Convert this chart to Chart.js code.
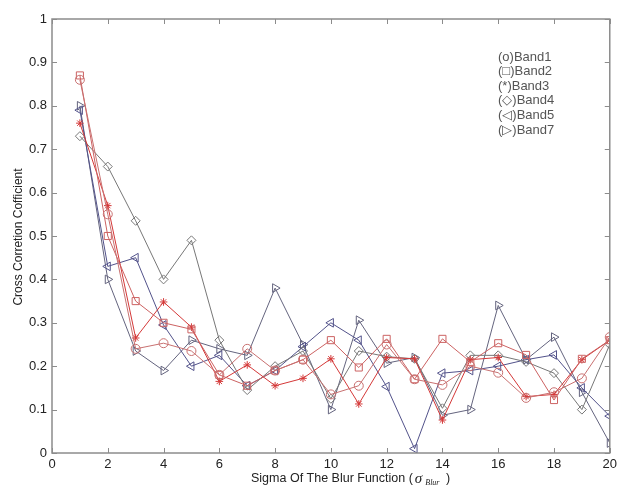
<!DOCTYPE html>
<html>
<head>
<meta charset="utf-8">
<script src="https://cdn.jsdelivr.net/npm/chart.js@4"></script>
<style>
  html, body { margin: 0; padding: 0; background: #fff; }
  #wrap { width: 621px; height: 489px; }
</style>
</head>
<body>
<div id="wrap"><canvas id="c" width="621" height="489"></canvas></div>
<script>
// sigma values on the x axis
const SIGMA = [1, 2, 3, 4, 5, 6, 7, 8, 9, 10, 11, 12, 13, 14, 15, 16, 17, 18, 19, 20];

// cross correlation per band
const BAND1 = [0.86, 0.55, 0.24, 0.253, 0.235, 0.18, 0.24, 0.19, 0.215, 0.135, 0.155, 0.25, 0.17, 0.157, 0.20, 0.185, 0.127, 0.14, 0.172, 0.267];
const BAND2 = [0.87, 0.50, 0.35, 0.30, 0.285, 0.18, 0.155, 0.19, 0.215, 0.26, 0.197, 0.263, 0.17, 0.263, 0.21, 0.253, 0.226, 0.122, 0.217, 0.26];
const BAND3 = [0.76, 0.57, 0.265, 0.348, 0.29, 0.165, 0.203, 0.155, 0.172, 0.217, 0.113, 0.22, 0.217, 0.076, 0.215, 0.22, 0.13, 0.135, 0.215, 0.26];
const BAND4 = [0.73, 0.66, 0.535, 0.40, 0.49, 0.26, 0.145, 0.20, 0.235, 0.125, 0.235, 0.222, 0.217, 0.103, 0.225, 0.225, 0.21, 0.184, 0.10, 0.25];
const BAND5 = [0.79, 0.43, 0.45, 0.295, 0.20, 0.225, 0.155, 0.19, 0.245, 0.30, 0.26, 0.153, 0.01, 0.184, 0.19, 0.20, 0.215, 0.226, 0.15, 0.085];
const BAND7 = [0.80, 0.40, 0.235, 0.19, 0.26, 0.24, 0.225, 0.38, 0.25, 0.10, 0.306, 0.207, 0.22, 0.087, 0.10, 0.34, 0.215, 0.267, 0.14, 0.023];

const LEGEND_LINES = ['(o)Band1', '(\u25A1)Band2', '(*)Band3', '(\u25C7)Band4', '(\u25C1)Band5', '(\u25B7)Band7'];
const X_TICKS = [0, 2, 4, 6, 8, 10, 12, 14, 16, 18, 20];
const Y_TICKS = [0, 0.1, 0.2, 0.3, 0.4, 0.5, 0.6, 0.7, 0.8, 0.9, 1];

const FONT = '"Liberation Sans", Arial, sans-serif';
const AXIS_GRAY = '#8c8c8c';

function pts(vals) {
  return vals.map((v, i) => ({ x: SIGMA[i], y: v }));
}

function band(label, vals, color, style, rot, r) {
  return {
    label,
    data: pts(vals),
    borderColor: color,
    backgroundColor: 'rgba(0,0,0,0)',
    pointBorderColor: color,
    pointBackgroundColor: 'rgba(0,0,0,0)',
    borderWidth: 1,
    pointBorderWidth: 1,
    pointStyle: style,
    pointRotation: rot || 0,
    pointRadius: r || 4.5,
    tension: 0
  };
}

// frame, inward ticks, legend text and axis titles
const decor = {
  id: 'decor',
  afterDraw(chart) {
    const ctx = chart.ctx;
    const a = chart.chartArea;
    const xs = chart.scales.x, ys = chart.scales.y;
    ctx.save();
    ctx.strokeStyle = AXIS_GRAY;
    ctx.lineWidth = 1.5;
    ctx.strokeRect(a.left, a.top, a.right - a.left, a.bottom - a.top);
    ctx.lineWidth = 1;
    ctx.beginPath();
    X_TICKS.forEach(v => {
      const px = Math.round(xs.getPixelForValue(v)) + 0.5;
      ctx.moveTo(px, a.bottom); ctx.lineTo(px, a.bottom - 5);
      ctx.moveTo(px, a.top); ctx.lineTo(px, a.top + 5);
    });
    Y_TICKS.forEach(v => {
      const py = Math.round(ys.getPixelForValue(v)) + 0.5;
      ctx.moveTo(a.left, py); ctx.lineTo(a.left + 5, py);
      ctx.moveTo(a.right, py); ctx.lineTo(a.right - 5, py);
    });
    ctx.stroke();

    // legend as plain text
    ctx.fillStyle = '#555';
    ctx.font = '13px ' + FONT;
    ctx.textAlign = 'left';
    ctx.textBaseline = 'middle';
    LEGEND_LINES.forEach((t, i) => ctx.fillText(t, 498, 57 + i * 14.6));

    // x title with sigma_Blur
    ctx.fillStyle = '#222';
    ctx.font = '12.5px ' + FONT;
    let x = 251;
    const y = 479;
    const s1 = 'Sigma Of The Blur Function (';
    ctx.fillText(s1, x, y);
    x += ctx.measureText(s1).width + 2;
    ctx.font = 'italic 15px "Liberation Serif", serif';
    ctx.fillText('\u03C3', x, y);
    x += ctx.measureText('\u03C3').width + 3;
    ctx.font = 'italic 8px "Liberation Serif", serif';
    ctx.fillText('Blur', x, y + 4);
    x += ctx.measureText('Blur').width + 3;
    ctx.font = '12.5px ' + FONT;
    ctx.fillText(' )', x, y);

    // y title
    ctx.font = '12px ' + FONT;
    ctx.translate(19, 237);
    ctx.rotate(-Math.PI / 2);
    ctx.textAlign = 'center';
    ctx.fillText('Cross Corretion Cofficient', 0, 0);
    ctx.restore();
  }
};

new Chart(document.getElementById('c'), {
  type: 'line',
  data: {
    datasets: [
      band('Band1', BAND1, '#c87070', 'circle', 0, 4.5),
      band('Band2', BAND2, '#cc6262', 'rect', 0, 5),
      band('Band3', BAND3, '#d43838', 'star', 0, 3.8),
      band('Band4', BAND4, '#777777', 'rectRot', 0, 4.5),
      band('Band5', BAND5, '#52528a', 'triangle', -90, 5),
      band('Band7', BAND7, '#64647e', 'triangle', 90, 5)
    ]
  },
  options: {
    responsive: false,
    animation: false,
    events: [],
    layout: { padding: { top: 19, right: 11, left: 0, bottom: 0 } },
    plugins: { legend: { display: false }, tooltip: { enabled: false } },
    scales: {
      x: {
        type: 'linear', min: 0, max: 20,
        afterBuildTicks: s => { s.ticks = X_TICKS.map(v => ({ value: v })); },
        afterFit: s => { s.height = 36; },
        grid: { display: false, drawTicks: false },
        border: { display: false },
        ticks: { color: '#222', font: { family: FONT, size: 13 }, padding: 4, maxRotation: 0 }
      },
      y: {
        type: 'linear', min: 0, max: 1,
        afterBuildTicks: s => { s.ticks = Y_TICKS.map(v => ({ value: v })); },
        afterFit: s => { s.width = 52; },
        grid: { display: false, drawTicks: false },
        border: { display: false },
        ticks: { color: '#222', font: { family: FONT, size: 13 }, padding: 5, callback: v => String(+v.toFixed(1)) }
      }
    }
  },
  plugins: [decor]
});
</script>
</body>
</html>
